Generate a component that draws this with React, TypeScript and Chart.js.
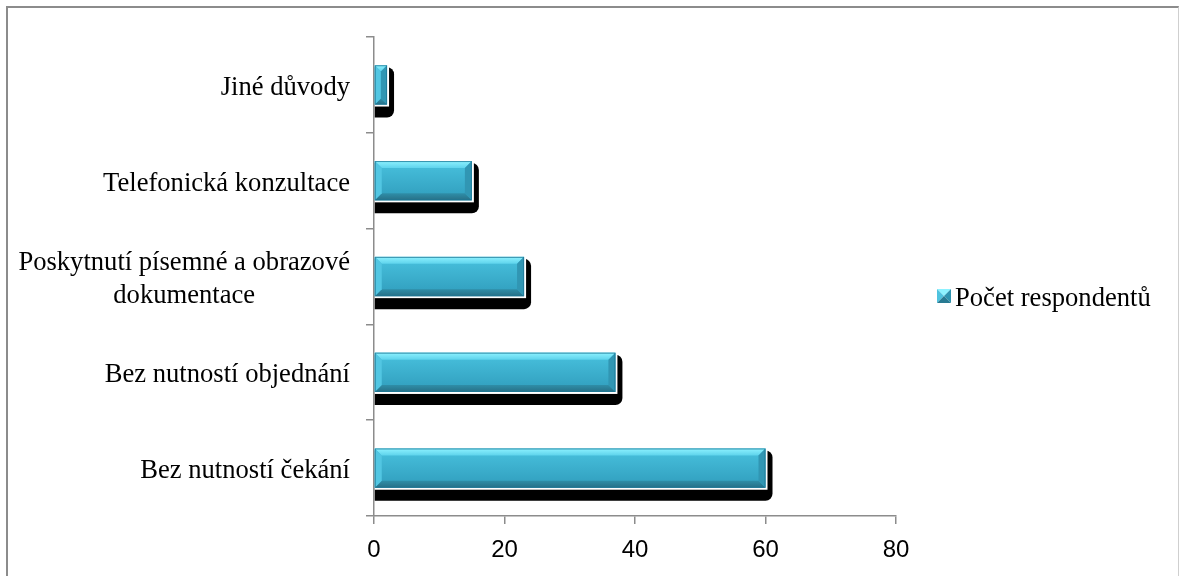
import React, { useEffect, useRef } from "react";
import { Chart, registerables } from "chart.js";

Chart.register(...registerables);

// Categories top to bottom, as shown on the vertical axis
const categories: (string | string[])[] = [
  "Jiné důvody",
  "Telefonická konzultace",
  ["Poskytnutí písemné a obrazové", "dokumentace"],
  "Bez nutností objednání",
  "Bez nutností čekání",
];
const respondents: number[] = [2, 15, 23, 37, 60];
const seriesName = "Počet respondentů";
const xTickValues: number[] = [0, 20, 40, 60, 80];

const SERIF = '"Liberation Serif", "Times New Roman", serif';
const SANS = '"Liberation Sans", Arial, sans-serif';
const AXIS_GRAY = "#8c8c8c";

type Pt = [number, number];

function poly(ctx: CanvasRenderingContext2D, pts: Pt[], fill: string | CanvasGradient) {
  ctx.beginPath();
  ctx.moveTo(pts[0][0], pts[0][1]);
  for (let i = 1; i < pts.length; i++) ctx.lineTo(pts[i][0], pts[i][1]);
  ctx.closePath();
  ctx.fillStyle = fill;
  ctx.fill();
}

// Beveled box: light top facet, darker bottom and right facets, flat face in the middle
function bevelBox(ctx: CanvasRenderingContext2D, x0: number, y0: number, x1: number, y1: number, bevel: number) {
  const b = Math.max(0, Math.min(bevel, (x1 - x0) / 2, (y1 - y0) / 2));
  const face = ctx.createLinearGradient(0, y0 + b, 0, y1 - b);
  face.addColorStop(0, "#44bbd8");
  face.addColorStop(1, "#34a3c2");
  ctx.fillStyle = face;
  ctx.fillRect(x0, y0, x1 - x0, y1 - y0);

  const top = ctx.createLinearGradient(0, y0, 0, y0 + b);
  top.addColorStop(0, "#8ef2ff");
  top.addColorStop(1, "#5ed3ec");
  poly(ctx, [[x0, y0], [x1, y0], [x1 - b, y0 + b], [x0 + b, y0 + b]], top);

  const bottom = ctx.createLinearGradient(0, y1 - b, 0, y1);
  bottom.addColorStop(0, "#2f8ea8");
  bottom.addColorStop(1, "#276f86");
  poly(ctx, [[x0, y1], [x1, y1], [x1 - b, y1 - b], [x0 + b, y1 - b]], bottom);

  poly(ctx, [[x0, y0], [x0 + b, y0 + b], [x0 + b, y1 - b], [x0, y1]], "#52c6e2");
  poly(ctx, [[x1, y0], [x1 - b, y0 + b], [x1 - b, y1 - b], [x1, y1]], "#3196b3");

  ctx.strokeStyle = "rgba(30,120,150,0.8)";
  ctx.lineWidth = 1;
  ctx.strokeRect(x0 + 0.5, y0 + 0.5, x1 - x0 - 1, y1 - y0 - 1);
}

const barPainter = {
  id: "barPainter",
  afterDatasetsDraw(chart: Chart) {
    const ctx = chart.ctx;
    const meta = chart.getDatasetMeta(0);
    ctx.save();
    meta.data.forEach((el: any) => {
      const p = el.getProps(["x", "y", "base", "height"], true);
      const left = Math.min(p.base, p.x);
      const right = Math.max(p.base, p.x);
      const top = p.y - p.height / 2;
      const bottom = p.y + p.height / 2;
      // drop shadow
      ctx.fillStyle = "#000";
      ctx.beginPath();
      (ctx as any).roundRect(left, top + 2, right - left + 7, bottom - top + 11, [0, 7, 7, 0]);
      ctx.fill();
      // white outline
      ctx.fillStyle = "#fff";
      ctx.fillRect(left, top - 1, right - left + 2, bottom - top + 3);
      bevelBox(ctx, left, top, right, bottom, 7);
    });
    ctx.restore();
  },
  afterDraw(chart: Chart) {
    const ctx = chart.ctx;
    const yScale = chart.scales.y;
    ctx.save();
    ctx.fillStyle = "#000";
    ctx.font = `26.6px ${SERIF}`;
    ctx.textBaseline = "middle";
    const rightEdge = yScale.right - 24;
    categories.forEach((label, i) => {
      const cy = yScale.getPixelForValue(i) + 3;
      const lines = Array.isArray(label) ? label : [label];
      const widths = lines.map((l) => ctx.measureText(l).width);
      const blockW = Math.max(...widths);
      const lh = 33;
      lines.forEach((line, j) => {
        const y = cy + (j - (lines.length - 1) / 2) * lh;
        ctx.textAlign = "center";
        ctx.fillText(line, rightEdge - blockW / 2, y);
      });
    });

    // legend
    const lx = 929;
    const ly = 281;
    const s = 14;
    poly(ctx, [[lx, ly], [lx + s, ly], [lx + s / 2, ly + s / 2]], "#8ef2ff");
    poly(ctx, [[lx, ly], [lx + s / 2, ly + s / 2], [lx, ly + s]], "#4fc3df");
    poly(ctx, [[lx + s, ly], [lx + s, ly + s], [lx + s / 2, ly + s / 2]], "#2f94b0");
    poly(ctx, [[lx, ly + s], [lx + s, ly + s], [lx + s / 2, ly + s / 2]], "#287a92");
    ctx.textAlign = "left";
    ctx.textBaseline = "alphabetic";
    ctx.fillStyle = "#000";
    ctx.fillText(seriesName, lx + 18, 298);
    ctx.restore();
  },
};

export default function App() {
  const ref = useRef<HTMLCanvasElement | null>(null);

  useEffect(() => {
    if (!ref.current) return;
    const chart = new Chart(ref.current, {
      type: "bar",
      data: {
        labels: categories,
        datasets: [
          {
            label: seriesName,
            data: respondents,
            backgroundColor: "rgba(0,0,0,0)",
            borderWidth: 0,
            barPercentage: 0.41,
            categoryPercentage: 1,
          },
        ],
      },
      options: {
        indexAxis: "y",
        responsive: false,
        animation: false,
        devicePixelRatio: 1,
        layout: { padding: { left: 0, top: 29, right: 282, bottom: 0 } },
        plugins: {
          legend: { display: false },
          tooltip: { enabled: false },
        },
        scales: {
          x: {
            min: xTickValues[0],
            max: xTickValues[xTickValues.length - 1],
            ticks: {
              stepSize: xTickValues[1] - xTickValues[0],
              color: "#000",
              font: { family: SANS, size: 24 },
              padding: 12,
            },
            grid: {
              drawOnChartArea: false,
              drawTicks: true,
              tickLength: 8,
              color: AXIS_GRAY,
              lineWidth: 1.5,
            },
            border: { display: true, color: AXIS_GRAY, width: 1.5 },
            afterFit: (s: any) => {
              s.height = 60;
            },
          },
          y: {
            ticks: { display: false },
            grid: {
              offset: true,
              drawOnChartArea: false,
              drawTicks: true,
              tickLength: 8,
              color: AXIS_GRAY,
              lineWidth: 1.5,
            },
            border: { display: true, color: AXIS_GRAY, width: 1.5 },
            afterFit: (s: any) => {
              s.width = 366;
            },
          },
        },
      },
      plugins: [barPainter],
    });
    return () => chart.destroy();
  }, []);

  return (
    <div
      style={{
        position: "fixed",
        left: 6,
        top: 6,
        width: 1170,
        height: 600,
        borderLeft: "2px solid #8c8c8c",
        borderTop: "2px solid #8c8c8c",
        borderRight: "1px solid #cfcfcf",
        background: "#fff",
        overflow: "hidden",
      }}
    >
      <canvas ref={ref} width={1170} height={568} style={{ display: "block" }} />
    </div>
  );
}
